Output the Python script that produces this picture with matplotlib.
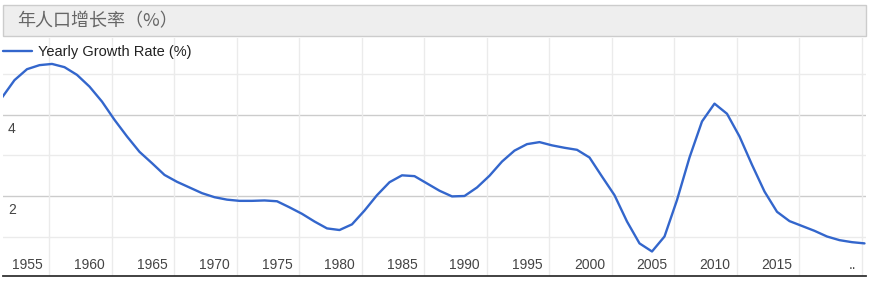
import matplotlib
matplotlib.use("Agg")
import matplotlib.pyplot as plt
from matplotlib.patches import Rectangle

# yearly growth rate (%)
years = list(range(1953, 2023))
growth = [
    4.43, 4.86, 5.13, 5.23, 5.26, 5.18, 4.99, 4.70, 4.33, 3.88,   # 1953-1962
    3.47, 3.09, 2.81, 2.52, 2.35, 2.21, 2.07, 1.97, 1.91, 1.88,   # 1963-1972
    1.88, 1.89, 1.87, 1.72, 1.56, 1.37, 1.20, 1.16, 1.30, 1.64,   # 1973-1982
    2.02, 2.34, 2.51, 2.49, 2.31, 2.13, 1.99, 2.00, 2.21, 2.50,   # 1983-1992
    2.85, 3.12, 3.28, 3.33, 3.25, 3.19, 3.14, 2.95, 2.48, 2.02,   # 1993-2002
    1.37, 0.83, 0.63, 1.00, 1.90, 2.95, 3.84, 4.28, 4.03, 3.47,   # 2003-2012
    2.77, 2.11, 1.61, 1.38, 1.26, 1.14, 1.00, 0.91, 0.86, 0.83,   # 2013-2022
]
x_label_years = list(range(1955, 2020, 5))
x_labels = [str(y) for y in x_label_years] + [".."]
x_label_pos = x_label_years + [2021]
y_major = [2, 4]
y_minor = [1, 3, 5]
vgrid_years = [1956.76 + 5 * k for k in range(14)]

title = "年人口增长率（%）"
series_name = "Yearly Growth Rate (%)"
BLUE = "#3366cc"

W, H = 870, 283
fig = plt.figure(figsize=(W / 100, H / 100), dpi=100)
plt.rcParams["font.family"] = ["Liberation Sans", "DejaVu Sans"]

# plot area in pixels: x 3..866, y 38..276
ax = fig.add_axes([3 / W, (H - 276) / H, 863 / W, 238 / H])
ax.set_xlim(1953.08, 2022.12)
ax.set_ylim(0.025, 5.9)

for yv in y_minor:
    ax.axhline(yv, color="#ebebeb", lw=1, zorder=1)
for yv in y_major:
    ax.axhline(yv, color="#cccccc", lw=1, zorder=1)
for xv in vgrid_years:
    ax.axvline(xv, color="#ebebeb", lw=1, zorder=1)

ax.plot(years, growth, color=BLUE, lw=1.7, zorder=3, label=series_name,
        solid_joinstyle="round", solid_capstyle="round")

for s in ["top", "left", "right"]:
    ax.spines[s].set_visible(False)
ax.spines["bottom"].set_color("#333333")
ax.spines["bottom"].set_linewidth(1.3)
ax.set_xticks([])
ax.set_yticks([])

for pos, lab in zip(x_label_pos, x_labels):
    ax.annotate(lab, xy=(pos, 0), xycoords=("data", "axes fraction"),
                xytext=(0, 7), textcoords="offset pixels",
                ha="center", va="baseline", fontsize=10, color="#444444")
for yv in y_major:
    ax.annotate(str(yv), xy=(0, yv), xycoords=("axes fraction", "data"),
                xytext=(5, -18), textcoords="offset pixels",
                ha="left", va="baseline", fontsize=10, color="#444444")

ax.legend(loc="center left", bbox_to_anchor=(0, (276 - 52) / 238),
          frameon=False, fontsize=10.5, handlelength=2.0, handletextpad=0.4,
          borderpad=0, borderaxespad=0, labelcolor="#222222")

# title bar
fig.patches.append(Rectangle((3 / W, (H - 36) / H), 863 / W, 31 / H,
                             transform=fig.transFigure, facecolor="#eeeeee",
                             edgecolor="#cccccc", lw=1))
fig.text(17 / W, (H - 21) / H, title, fontsize=13, color="#666666",
         va="center", ha="left", family=["Noto Sans CJK SC", "DejaVu Sans"])

fig.savefig("out.png", dpi=100)
